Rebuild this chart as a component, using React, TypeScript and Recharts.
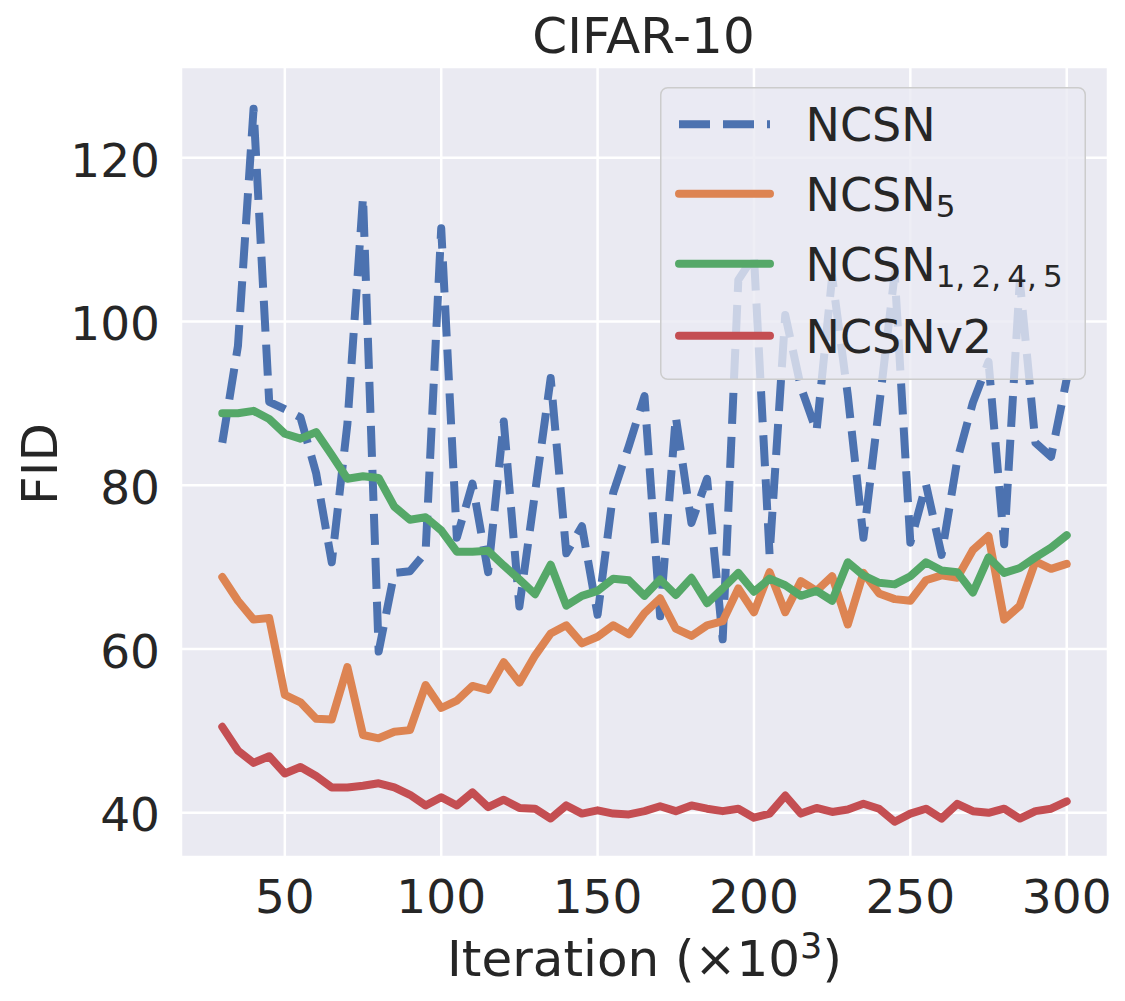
import React from "react";
import { CartesianGrid, Label, Legend, Line, LineChart, XAxis, YAxis } from "recharts";

const ITERATIONS = [
  30, 35, 40, 45, 50, 55, 60, 65, 70, 75, 80, 85, 90, 95, 100, 105, 110, 115, 120, 125, 130, 135, 140, 145, 150,
  155, 160, 165, 170, 175, 180, 185, 190, 195, 200, 205, 210, 215, 220, 225, 230, 235, 240, 245, 250, 255, 260,
  265, 270, 275, 280, 285, 290, 295, 300,
];

const NCSN = [
  85.2, 97.0, 126.0, 90.2, 89.3, 88.3, 81.5, 70.6, 87.5, 115.2, 59.7, 69.3, 69.5, 71.8, 111.4, 73.6, 80.2, 69.4,
  87.8, 65.2, 79.1, 93.1, 71.7, 75.0, 64.2, 79.1, 84.8, 90.9, 64.0, 88.4, 75.4, 80.8, 61.2, 105.1, 108.0, 71.5,
  100.8, 92.0, 86.6, 105.5, 91.0, 73.6, 89.6, 105.9, 73.0, 80.1, 71.5, 83.1, 90.1, 95.1, 72.8, 105.0, 85.2, 83.5,
  93.0,
];

const NCSN_5 = [
  68.8, 65.9, 63.6, 63.8, 54.4, 53.5, 51.5, 51.4, 57.8, 49.5, 49.1, 49.9, 50.1, 55.6, 52.8, 53.7, 55.5, 55.0,
  58.4, 55.9, 59.2, 61.9, 62.9, 60.7, 61.5, 62.9, 61.8, 64.4, 66.2, 62.5, 61.6, 62.9, 63.4, 67.4, 64.5, 69.4,
  64.5, 68.3, 67.1, 68.9, 63.0, 69.3, 66.8, 66.1, 65.9, 68.4, 69.0, 68.7, 72.1, 73.8, 63.6, 65.3, 70.7, 69.8,
  70.4,
];

const NCSN_1245 = [
  88.8, 88.8, 89.1, 88.1, 86.3, 85.7, 86.5, 83.7, 80.8, 81.1, 80.9, 77.4, 75.8, 76.1, 74.5, 71.9, 71.9, 72.0,
  70.2, 68.5, 66.7, 70.3, 65.3, 66.5, 67.1, 68.6, 68.4, 66.5, 68.5, 66.6, 68.7, 65.6, 67.4, 69.3, 67.0, 68.6,
  67.8, 66.5, 67.1, 65.9, 70.6, 69.0, 68.1, 67.9, 68.9, 70.6, 69.6, 69.4, 66.9, 71.2, 69.3, 69.9, 71.2, 72.4,
  73.9,
];

const NCSN_V2 = [
  50.5, 47.6, 46.1, 46.9, 44.8, 45.6, 44.5, 43.1, 43.1, 43.3, 43.6, 43.1, 42.2, 40.9, 41.9, 40.9, 42.5, 40.7,
  41.6, 40.6, 40.5, 39.3, 40.9, 39.9, 40.3, 39.9, 39.8, 40.2, 40.8, 40.2, 40.9, 40.5, 40.2, 40.5, 39.4, 39.9,
  42.1, 39.9, 40.6, 40.1, 40.4, 41.1, 40.5, 38.9, 39.9, 40.5, 39.3, 41.1, 40.2, 40.0, 40.5, 39.3, 40.2, 40.5,
  41.4,
];

const X_TICKS = [50, 100, 150, 200, 250, 300];
const Y_TICKS = [40, 60, 80, 100, 120];

const FONT = "'DejaVu Sans', sans-serif";
const INK = "#262626";

// seaborn "deep" palette, in plotting order (later lines sit on top)
const SERIES = [
  { key: "ncsn", name: "NCSN", sub: "", color: "#4C72B0", dash: "31 13" },
  { key: "ncsn5", name: "NCSN", sub: "5", color: "#DD8452", dash: undefined },
  { key: "ncsn1245", name: "NCSN", sub: "1,\u20092,\u20094,\u20095", color: "#55A868", dash: undefined },
  { key: "ncsnv2", name: "NCSNv2", sub: "", color: "#C44E52", dash: undefined },
];

const data = ITERATIONS.map((iter, i) => ({
  iter,
  ncsn: NCSN[i],
  ncsn5: NCSN_5[i],
  ncsn1245: NCSN_1245[i],
  ncsnv2: NCSN_V2[i],
}));

const LEGEND_ROW_Y = [37.3, 106.7, 176.7, 248.7];

function FidLegend() {
  return (
    <svg width={426} height={293} style={{ display: "block", overflow: "visible" }}>
      <rect
        x={0.75}
        y={0.75}
        width={424.5}
        height={291.5}
        rx={7}
        fill="rgba(234,234,242,0.8)"
        stroke="#cccccc"
        strokeWidth={1.5}
      />
      {SERIES.map((s, i) => {
        const cy = LEGEND_ROW_Y[i];
        return (
          <g key={s.key}>
            <line
              x1={19}
              x2={110}
              y1={cy}
              y2={cy}
              stroke={s.color}
              strokeWidth={8}
              strokeDasharray={s.dash}
              strokeLinecap={s.dash ? "butt" : "round"}
            />
            <text x={145.5} y={cy + 16.8} fontSize={46} fill={INK} fontFamily={FONT}>
              {s.name}
              {s.sub ? (
                <tspan fontSize={31} dy={6}>
                  {s.sub}
                </tspan>
              ) : null}
            </text>
          </g>
        );
      })}
    </svg>
  );
}

export default function App() {
  return (
    <div style={{ position: "absolute", left: 0, top: 0, width: 1125, height: 1001, background: "#fff", fontFamily: FONT }}>
      <div
        style={{
          position: "absolute",
          left: 0,
          width: 1125,
          top: 11,
          paddingLeft: 180,
          paddingRight: 18,
          boxSizing: "border-box",
          textAlign: "center",
          fontSize: 50,
          lineHeight: "50px",
          color: INK,
          fontFamily: FONT,
          zIndex: 2,
        }}
      >
        CIFAR-10
      </div>
      <LineChart width={1125} height={1001} data={data} margin={{ top: 67, right: 17, bottom: 0, left: 0 }}>
        <CartesianGrid fill="#EAEAF2" stroke="#ffffff" strokeWidth={2.5} />
        <XAxis
          dataKey="iter"
          type="number"
          domain={[16.8, 313.2]}
          ticks={X_TICKS}
          interval={0}
          allowDataOverflow
          height={144}
          axisLine={false}
          tickLine={false}
          tickSize={0}
          tickMargin={23}
          tick={{ fontSize: 47, fill: INK, fontFamily: FONT }}
        >
          <Label
            content={({ viewBox }: any) => (
              <text
                x={viewBox.x + viewBox.width / 2}
                y={975.7}
                textAnchor="middle"
                fontSize={50}
                fill={INK}
                fontFamily={FONT}
              >
                Iteration (×10
                <tspan fontSize={35} dy={-18}>
                  3
                </tspan>
                <tspan dy={18}>)</tspan>
              </text>
            )}
          />
        </XAxis>
        <YAxis
          type="number"
          domain={[34.6, 131.1]}
          ticks={Y_TICKS}
          interval={0}
          allowDataOverflow
          width={181}
          axisLine={false}
          tickLine={false}
          tickSize={0}
          tickMargin={21}
          tick={{ fontSize: 47, fill: INK, fontFamily: FONT, dy: 2 }}
        >
          <Label
            content={({ viewBox }: any) => {
              const cy = viewBox.y + viewBox.height / 2 + 2;
              return (
                <text
                  x={56.7}
                  y={cy}
                  transform={`rotate(-90, 56.7, ${cy})`}
                  textAnchor="middle"
                  fontSize={50}
                  fill={INK}
                  fontFamily={FONT}
                >
                  FID
                </text>
              );
            }}
          />
        </YAxis>
        {SERIES.map((s) => (
          <Line
            key={s.key}
            type="linear"
            dataKey={s.key}
            name={s.key}
            stroke={s.color}
            strokeWidth={8}
            strokeDasharray={s.dash}
            strokeLinejoin="round"
            strokeLinecap={s.dash ? "butt" : "round"}
            dot={false}
            activeDot={false}
            isAnimationActive={false}
          />
        ))}
        <Legend
          layout="vertical"
          align="center"
          verticalAlign="middle"
          content={() => <FidLegend />}
          wrapperStyle={{ left: 660, top: 87, width: 426, height: 293, right: "auto", bottom: "auto" }}
        />
      </LineChart>
    </div>
  );
}
